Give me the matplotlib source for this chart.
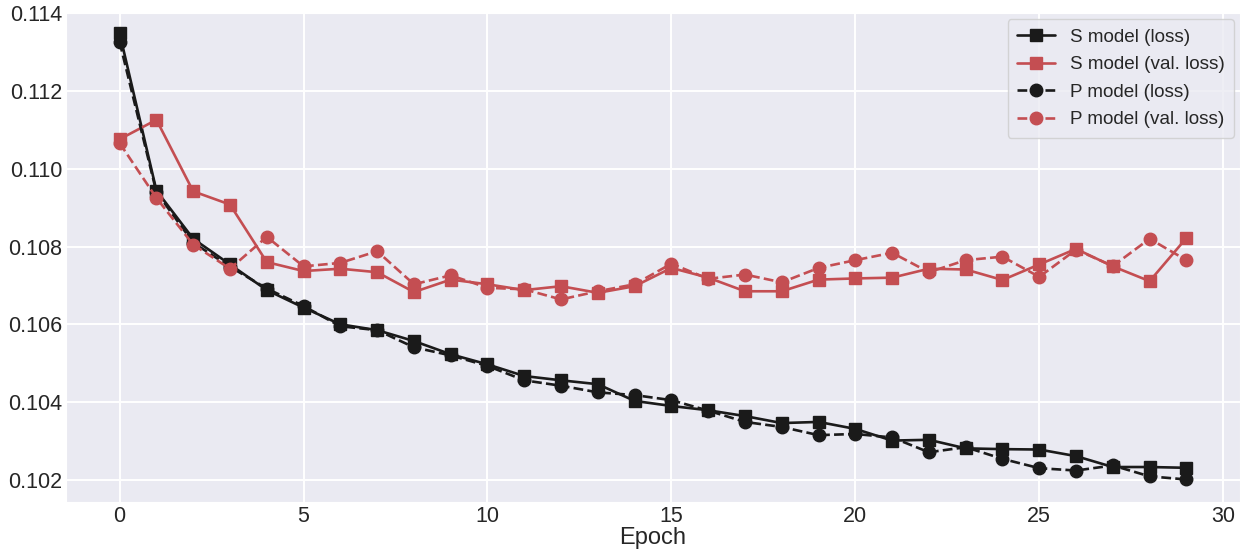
import matplotlib
matplotlib.use("Agg")
import matplotlib.pyplot as plt
from matplotlib.ticker import FormatStrFormatter
import seaborn as sns

epochs = list(range(30))

s_loss = [0.11348, 0.10944, 0.10820, 0.10754, 0.10688, 0.10643, 0.10600, 0.10585,
          0.10557, 0.10523, 0.10497, 0.10467, 0.10456, 0.10446, 0.10403, 0.10390,
          0.10379, 0.10364, 0.10346, 0.10349, 0.10331, 0.10301, 0.10303, 0.10281,
          0.10279, 0.10278, 0.10261, 0.10233, 0.10233, 0.10231]

s_val_loss = [0.11076, 0.11126, 0.10942, 0.10908, 0.10760, 0.10737, 0.10743, 0.10734,
              0.10683, 0.10715, 0.10703, 0.10688, 0.10698, 0.10681, 0.10698, 0.10745,
              0.10720, 0.10685, 0.10685, 0.10715, 0.10718, 0.10720, 0.10743, 0.10741,
              0.10714, 0.10754, 0.10794, 0.10749, 0.10711, 0.10822]

p_loss = [0.11326, 0.10940, 0.10810, 0.10748, 0.10692, 0.10647, 0.10595, 0.10585,
          0.10541, 0.10520, 0.10493, 0.10456, 0.10442, 0.10425, 0.10418, 0.10405,
          0.10378, 0.10349, 0.10336, 0.10315, 0.10318, 0.10309, 0.10271, 0.10284,
          0.10254, 0.10230, 0.10224, 0.10237, 0.10209, 0.10201]

p_val_loss = [0.11066, 0.10925, 0.10805, 0.10743, 0.10825, 0.10749, 0.10758, 0.10788,
              0.10703, 0.10726, 0.10694, 0.10690, 0.10664, 0.10685, 0.10703, 0.10756,
              0.10717, 0.10728, 0.10708, 0.10745, 0.10765, 0.10784, 0.10734, 0.10765,
              0.10774, 0.10722, 0.10792, 0.10750, 0.10820, 0.10765]

labels = ["S model (loss)", "S model (val. loss)", "P model (loss)", "P model (val. loss)"]

sns.set_style("darkgrid")
plt.rcParams["font.family"] = ["Liberation Sans", "DejaVu Sans"]

black = "#1a1a1a"
red = "#c44e52"

fig = plt.figure(figsize=(12.51, 5.52), dpi=100)
ax = fig.add_axes([0.053, 0.091, 0.938, 0.885])

lw = 1.9
ms = 9
ax.plot(epochs, s_loss, color=black, ls="-", marker="s", lw=lw, ms=ms, label=labels[0])
ax.plot(epochs, s_val_loss, color=red, ls="-", marker="s", lw=lw, ms=ms, label=labels[1])
ax.plot(epochs, p_loss, color=black, ls="--", marker="o", lw=lw, ms=ms, label=labels[2])
ax.plot(epochs, p_val_loss, color=red, ls="--", marker="o", lw=lw, ms=ms, label=labels[3])

ax.set_ylim(top=0.114)
ax.set_xticks([0, 5, 10, 15, 20, 25, 30])
ax.set_yticks([0.102, 0.104, 0.106, 0.108, 0.110, 0.112, 0.114])
ax.yaxis.set_major_formatter(FormatStrFormatter("%.3f"))
ax.tick_params(labelsize=15.5, colors="#262626", length=0, pad=3)
ax.set_xlabel("Epoch", fontsize=17, color="#262626", labelpad=0)
ax.grid(True, color="white", lw=1.4)

ax.legend(loc="upper right", fontsize=13.6, frameon=True, facecolor="#eaeaf2",
          edgecolor="#cccccc", framealpha=0.8, borderpad=0.5, labelspacing=0.55,
          handlelength=2.0, borderaxespad=0.3)

fig.savefig("out.png", dpi=100)
